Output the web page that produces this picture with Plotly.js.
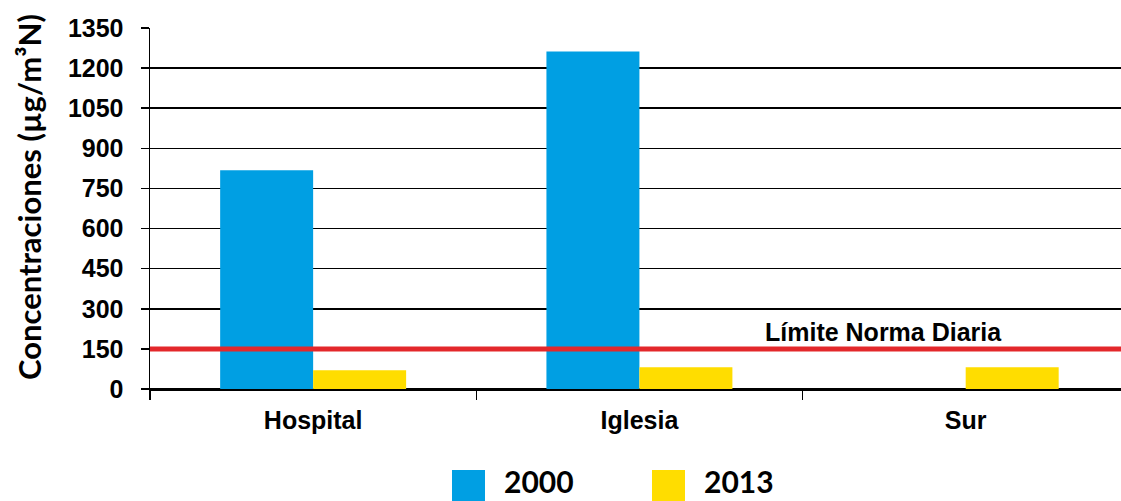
<!DOCTYPE html>
<html>
<head>
<meta charset="utf-8">
<script src="https://cdn.plot.ly/plotly-3.0.1.min.js"></script>
<style>html,body{margin:0;padding:0;background:#fff;}#chart{width:1121px;height:501px;}</style>
</head>
<body>
<div id="chart"></div>
<script>
const categories = ["Hospital", "Iglesia", "Sur"];
const seriesNames = ["2000", "2013"];
const values2000 = [818, 1262, null];
const values2013 = [70, 81, 81];
const limitValue = 150;
const limitLabel = "Límite Norma Diaria";
const yTicks = [0, 150, 300, 450, 600, 750, 900, 1050, 1200, 1350];
const yTitle = "Concentraciones (µg/m³N)";

const colors = ["#009FE3", "#FFDD00"];
const tickFont = {family: "Liberation Sans, Arial, sans-serif", size: 25, color: "#000", weight: "bold"};

const traces = [
  {type: "bar", x: categories, y: values2000, name: seriesNames[0], marker: {color: colors[0]}, showlegend: false},
  {type: "bar", x: categories, y: values2013, name: seriesNames[1], marker: {color: colors[1]}, showlegend: false}
];

const W = 971; // plot width px
const H = 361; // plot height px
function px(xp){ return (xp - 150) / W; }
function py(yp){ return (389 - yp) / H; }

const shapes = [
  {type: "line", xref: "paper", x0: 0, x1: 1, yref: "y", y0: limitValue, y1: limitValue,
   line: {color: "#E3282B", width: 5}, layer: "above"},
  {type: "rect", xref: "paper", yref: "paper", x0: px(452), x1: px(485), y0: py(470), y1: py(506),
   fillcolor: colors[0], line: {width: 0}},
  {type: "rect", xref: "paper", yref: "paper", x0: px(652), x1: px(685), y0: py(470), y1: py(506),
   fillcolor: colors[1], line: {width: 0}}
];

const annotations = [
  {text: "<b>" + yTitle + "</b>", xref: "paper", yref: "paper", x: px(29), y: py(197),
   xanchor: "center", yanchor: "middle", textangle: -90, showarrow: false,
   font: {family: "Lato, Open Sans, sans-serif", size: 31, color: "#000"}},
  {text: "<b>" + limitLabel + "</b>", xref: "paper", yref: "y", x: px(883), y: limitValue,
   xanchor: "center", yanchor: "bottom", yshift: 1, showarrow: false,
   font: {family: "Liberation Sans, Arial, sans-serif", size: 25, color: "#000"}},
  {text: "<b>" + seriesNames[0] + "</b>", xref: "paper", yref: "paper", x: px(503), y: py(481),
   xanchor: "left", yanchor: "middle", showarrow: false, borderpad: 0,
   font: {family: "Lato, Open Sans, sans-serif", size: 30, color: "#000"}},
  {text: "<b>" + seriesNames[1] + "</b>", xref: "paper", yref: "paper", x: px(703), y: py(481),
   xanchor: "left", yanchor: "middle", showarrow: false, borderpad: 0,
   font: {family: "Lato, Open Sans, sans-serif", size: 30, color: "#000"}}
];

const layout = {
  width: 1121, height: 501,
  margin: {l: 150, r: 0, t: 28, b: 112, pad: 0},
  paper_bgcolor: "#fff", plot_bgcolor: "#fff",
  barmode: "group", bargap: 0.43, bargroupgap: 0,
  showlegend: false,
  xaxis: {
    type: "category", range: [-0.5, 2.476], tickson: "boundaries",
    ticks: "outside", ticklen: 9, tickwidth: 1.5, tickcolor: "#000",
    showline: true, linecolor: "#000", linewidth: 1.5,
    showgrid: false, zeroline: false,
    tickfont: tickFont, ticklabelstandoff: 8, fixedrange: true
  },
  yaxis: {
    range: [0, 1350], tickvals: yTicks, ticktext: yTicks.map(String),
    ticks: "outside", ticklen: 8, tickwidth: 1.5, tickcolor: "#000",
    showline: true, linecolor: "#000", linewidth: 1.5,
    showgrid: true, gridcolor: "#000", gridwidth: 1.5,
    zeroline: true, zerolinecolor: "#000", zerolinewidth: 1.5,
    tickfont: tickFont, ticklabelstandoff: 12, fixedrange: true
  },
  shapes: shapes,
  annotations: annotations
};

Plotly.newPlot("chart", traces, layout, {displayModeBar: false, staticPlot: true});
</script>
</body>
</html>
